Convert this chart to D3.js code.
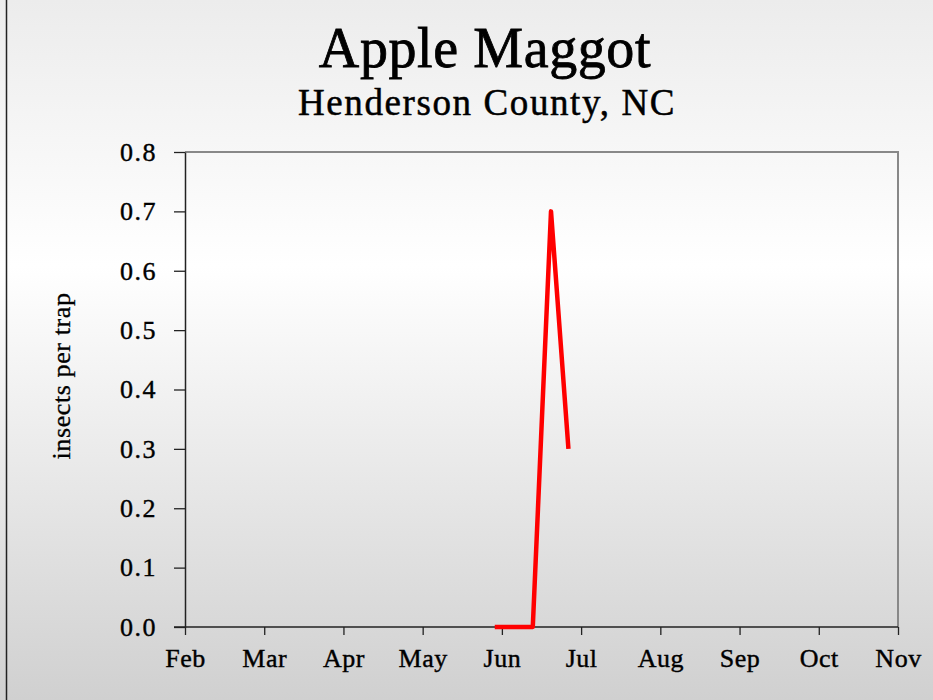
<!DOCTYPE html>
<html><head><meta charset="utf-8">
<script src="https://cdn.jsdelivr.net/npm/d3@7/dist/d3.min.js"></script>
<style>html,body{margin:0;padding:0;background:#fff;}svg{display:block;}</style>
</head><body>
<script>
const months = ["Feb","Mar","Apr","May","Jun","Jul","Aug","Sep","Oct","Nov"];
// x positions in month units from Feb (0) to Nov (9)
const sampleX = [3.91, 4.15, 4.39, 4.62, 4.84];
const sampleY = [0, 0, 0, 0.7, 0.3];
const yTicks = [0, 0.1, 0.2, 0.3, 0.4, 0.5, 0.6, 0.7, 0.8];

const W = 933, H = 700;
const m = {left:185, right:35, top:152, bottom:73};
const svg = d3.select("body").append("svg").attr("width", W).attr("height", H);
const defs = svg.append("defs");
const grad = defs.append("linearGradient").attr("id","bg").attr("x1",0).attr("y1",0).attr("x2",0).attr("y2",1);
grad.append("stop").attr("offset","0%").attr("stop-color","#ececec");
grad.append("stop").attr("offset","38%").attr("stop-color","#ffffff");
grad.append("stop").attr("offset","100%").attr("stop-color","#d0d0d0");
svg.append("rect").attr("width",W).attr("height",H).attr("fill","url(#bg)");
svg.append("line").attr("x1",6.5).attr("x2",6.5).attr("y1",0).attr("y2",H).attr("stroke","#222").attr("stroke-width",1.5);

const serif = "'Liberation Serif','DejaVu Serif',serif";
svg.append("text").attr("x",485).attr("y",67).attr("text-anchor","middle")
  .attr("font-family",serif).attr("font-size",56).attr("letter-spacing",0.6)
  .attr("fill","#000").attr("stroke","#000").attr("stroke-width",0.8).text("Apple Maggot");
svg.append("text").attr("x",487).attr("y",115).attr("text-anchor","middle")
  .attr("font-family",serif).attr("font-size",37).attr("letter-spacing",1.6)
  .attr("fill","#000").attr("stroke","#000").attr("stroke-width",0.5).text("Henderson County, NC");

const x = d3.scaleLinear().domain([0, months.length-1]).range([m.left, W-m.right]);
const y = d3.scaleLinear().domain([0, 0.8]).range([H-m.bottom, m.top]);

// plot frame (top and right)
svg.append("path").attr("d",`M${x(0)},${y(0.8)}H${x(9)}V${y(0)}`).attr("fill","none").attr("stroke","#888").attr("stroke-width",2);

const xAxis = svg.append("g").attr("transform",`translate(0,${y(0)})`)
  .call(d3.axisBottom(x).tickValues(d3.range(months.length)).tickFormat(i=>months[i]).tickSize(8).tickPadding(14).tickSizeOuter(0));
xAxis.select(".domain").attr("stroke","#222").attr("stroke-width",1.5).attr("d",`M${x(0)-11},0H${x(9)}`);
xAxis.selectAll(".tick line").attr("stroke","#222").attr("stroke-width",1.3);
xAxis.selectAll("text").attr("font-family",serif).attr("font-size",26).attr("letter-spacing",0.5)
  .attr("fill","#000").attr("stroke","#000").attr("stroke-width",0.4);

const yAxis = svg.append("g").attr("transform",`translate(${x(0)},0)`)
  .call(d3.axisLeft(y).tickValues(yTicks).tickFormat(d3.format(".1f")).tickSize(11).tickPadding(17).tickSizeOuter(0));
yAxis.select(".domain").attr("stroke","#222").attr("stroke-width",1.5);
yAxis.selectAll(".tick line").attr("stroke","#222").attr("stroke-width",1.3);
yAxis.selectAll("text").attr("font-family",serif).attr("font-size",26).attr("letter-spacing",1.5)
  .attr("fill","#000").attr("stroke","#000").attr("stroke-width",0.4);

svg.append("text").attr("transform",`translate(70,376) rotate(-90)`).attr("text-anchor","middle")
  .attr("font-family",serif).attr("font-size",26).attr("letter-spacing",0.6)
  .attr("fill","#000").attr("stroke","#000").attr("stroke-width",0.3).text("insects per trap");

const line = d3.line().x((d,i)=>x(sampleX[i])).y(d=>y(d));
svg.append("path").datum(sampleY).attr("d",line).attr("fill","none")
  .attr("stroke","#ff0000").attr("stroke-width",4.5).attr("stroke-linejoin","round").attr("stroke-linecap","butt");
</script>
</body></html>
